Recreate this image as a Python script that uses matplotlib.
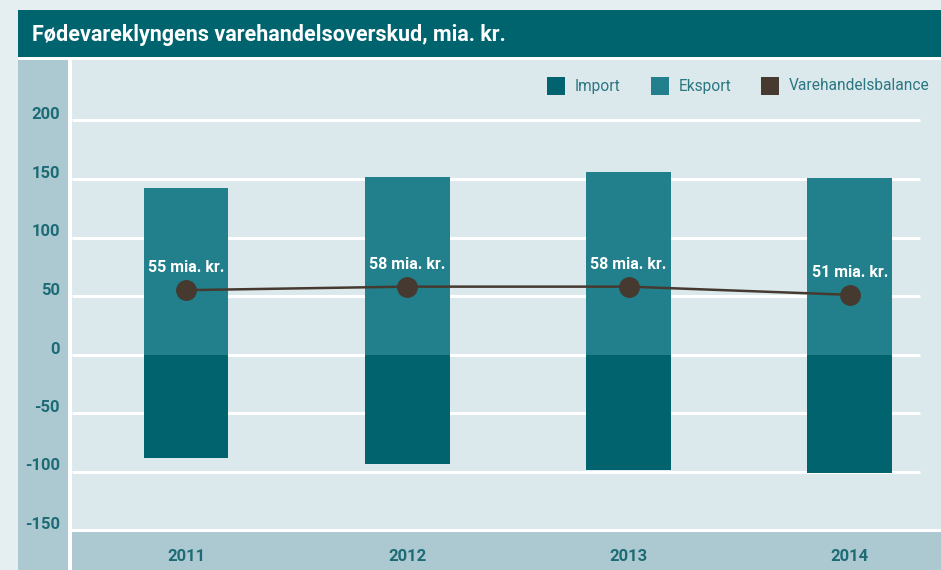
import matplotlib
matplotlib.use('Agg')
import matplotlib.pyplot as plt
import matplotlib.transforms as mtransforms
from matplotlib.patches import Rectangle

years = ['2011', '2012', '2013', '2014']
eksport = [142, 152, 156, 151]
imports = [-88.5, -94, -98.5, -101]
balance = [55, 58, 58, 51]
yticks = [200, 150, 100, 50, 0, -50, -100, -150]
title = 'Fødevareklyngens varehandelsoverskud, mia. kr.'
legend_labels = ['Import', 'Eksport', 'Varehandelsbalance']

OUTER = '#E5EEF1'
BANNER = '#00646F'
STRIP = '#ACC9D1'
PLOTBG = '#DBE8EC'
EXP = '#21808B'
IMP = '#00636D'
BAL = '#463A30'
TICK = '#1D6B75'
LEGTXT = '#2B7782'

plt.rcParams['font.family'] = ['Liberation Sans Narrow', 'Roboto', 'DejaVu Sans']

W, H = 941, 570


def box(x0, y0, x1, y1):
    # pixel box (top-left origin) -> figure fraction rect
    return [x0 / W, 1 - y1 / H, (x1 - x0) / W, (y1 - y0) / H]


def fig_rect(fig, x0, y0, x1, y1, color, z=0):
    r = box(x0, y0, x1, y1)
    fig.add_artist(Rectangle((r[0], r[1]), r[2], r[3], transform=fig.transFigure,
                             facecolor=color, edgecolor='none', zorder=z))


fig = plt.figure(figsize=(W / 100, H / 100), dpi=100, facecolor=OUTER)

# white backing, banner, y-label strip
fig_rect(fig, 18, 57, 941, 570, 'white', z=-3)
fig_rect(fig, 18, 10, 941, 57, BANNER, z=-2)
fig_rect(fig, 18, 60, 68, 570, STRIP, z=-2)
fig.text(32 / W, 1 - 35 / H, title, color='white', fontsize=15.5, fontweight='bold',
         va='center', ha='left')

ax = fig.add_axes(box(72, 60, 941, 570))
ax.set_facecolor(PLOTBG)
for s in ax.spines.values():
    s.set_visible(False)
ax.set_xticks([])
ax.set_yticks([])

x = list(range(len(years)))
ylo = (354.5 - 570) / 1.17
yhi = (354.5 - 60) / 1.17
xlo = (72 - 186) / 221.3
xhi = (941 - 186) / 221.3
ax.set_xlim(xlo, xhi)
ax.set_ylim(ylo, yhi)

# grid and bottom band
ax.axhspan(ylo, yticks[-1], color=STRIP, zorder=0.5, lw=0)
ax.hlines(yticks[:-1], xlo, (920 - 186) / 221.3, color='white', lw=2.2, zorder=1)
ax.axhline(yticks[-1], color='white', lw=2.2, zorder=1)

ax.bar(x, eksport, width=0.384, color=EXP, zorder=2)
ax.bar(x, imports, width=0.384, color=IMP, zorder=2)
ax.plot(x, balance, color=BAL, lw=1.8, marker='o', ms=14, zorder=3)

for i, b in zip(x, balance):
    ax.annotate(f'{b} mia. kr.', (i, b), xytext=(0, 16), textcoords='offset points',
                ha='center', va='center', color='white', fontsize=11.5, fontweight='bold',
                zorder=4)

# y tick labels sit a bit above their gridlines, inside the left strip
ytrans = ax.get_yaxis_transform() + mtransforms.ScaledTranslation(0, 0.055, fig.dpi_scale_trans)
for v in yticks:
    ax.text((60 - 72) / 869, v, str(v), transform=ytrans, ha='right', va='center',
            color=TICK, fontsize=12, fontweight='bold', clip_on=False)

for i, yr in zip(x, years):
    ax.text(i, (570 - 556.5) / 510, yr, transform=ax.get_xaxis_transform(),
            ha='center', va='center', color=TICK, fontsize=12, fontweight='bold')

# legend
leg_colors = [IMP, EXP, BAL]
leg_x = [547, 651, 761]
for lx, c, lab in zip(leg_x, leg_colors, legend_labels):
    fig_rect(fig, lx, 77, lx + 18, 95, c, z=5)
    fig.text((lx + 28) / W, 1 - 86 / H, lab, color=LEGTXT, fontsize=11.2, va='center', ha='left')

fig.savefig('out.png', dpi=100, facecolor=OUTER)
